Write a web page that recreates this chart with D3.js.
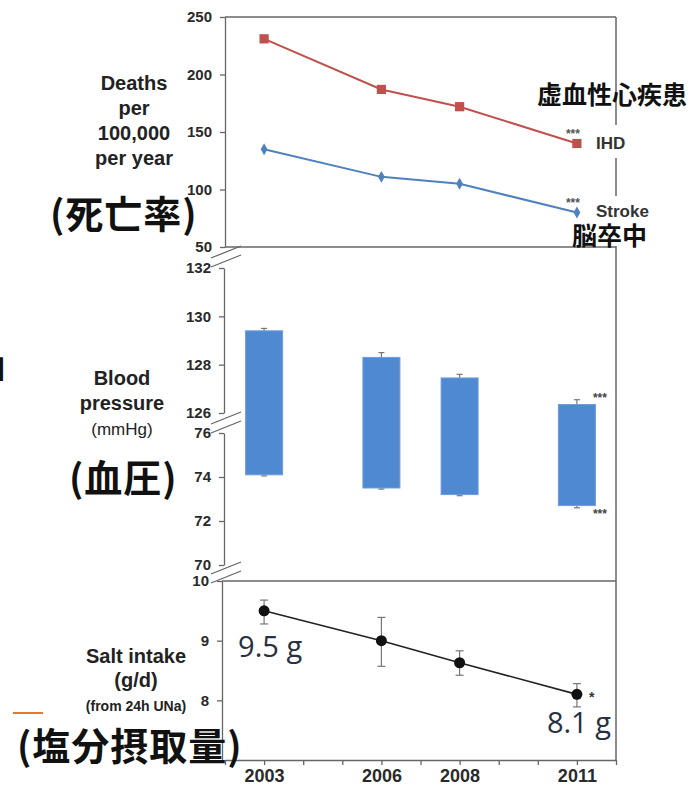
<!DOCTYPE html>
<html>
<head>
<meta charset="utf-8">
<script src="https://cdn.jsdelivr.net/npm/d3@7"></script>
<style>
  body { margin: 0; background: #fff; }
  svg { display: block; }
  .tick text { font-family: "Liberation Sans", Arial, sans-serif; font-weight: bold; fill: #2a2a2a; }
</style>
</head>
<body>
<div id="chart"></div>
<script>
// data
const years = [2003, 2006, 2008, 2011];
const ihdDeaths = [231, 187, 172, 140];
const strokeDeaths = [135, 111, 105, 80];
const sbp = [129.4, 128.3, 127.45, 126.35];
const sbpErr = [129.5, 128.5, 127.6, 126.55];
const dbp = [74.1, 73.5, 73.2, 72.7];
const dbpErr = [74.05, 73.45, 73.15, 72.6];
const salt = [9.5, 9.0, 8.63, 8.1];
const saltLow = [9.28, 8.57, 8.42, 7.89];
const saltHigh = [9.68, 9.39, 8.83, 8.28];
const yearTicks = [2003, 2006, 2008, 2011];
const deathTicks = [50, 100, 150, 200, 250];
const bpHiTicks = [126, 128, 130, 132];
const bpLoTicks = [70, 72, 74, 76];
const saltTicks = [8, 9, 10];

let width = 692;
let height = 787;

let red = "#c0504d";
let blue = "#4f81bd";
let barBlue = "#4f89d2";
let frame = "#666";

let svg = d3.select("#chart").append("svg")
  .attr("width", width)
  .attr("height", height);

//Scales
let x = d3.scaleLinear().domain([2002, 2012]).range([225, 616]);
let yTop = d3.scaleLinear().domain([50, 250]).range([247, 17]);
let yBpHi = d3.scaleLinear().domain([126, 132]).range([413, 268]);
let yBpLo = d3.scaleLinear().domain([70, 76]).range([565, 433]);
let ySalt = d3.scaleLinear().domain([7, 10]).range([760, 581]);

function styleAxis(g, size) {
  g.selectAll("path, line").attr("stroke", frame).attr("stroke-width", 1.3);
  g.selectAll("text").style("font-size", size + "px");
}

//Frame lines
svg.append("line").attr("x1", x(2012)).attr("x2", x(2012))
  .attr("y1", yTop(250)).attr("y2", ySalt(7))
  .attr("stroke", frame).attr("stroke-width", 1.5);
[yTop(250), yTop(50)].forEach(v => {
  svg.append("line").attr("x1", x(2002)).attr("x2", x(2012))
    .attr("y1", v).attr("y2", v).attr("stroke", frame).attr("stroke-width", 1.3);
});
svg.append("line").attr("x1", 222).attr("x2", x(2012))
  .attr("y1", ySalt(10)).attr("y2", ySalt(10))
  .attr("stroke", frame).attr("stroke-width", 1.3);

//Left axes
let fmt = d3.format("d");
svg.append("g").attr("transform", "translate(225,0)")
  .call(d3.axisLeft(yTop).tickValues(deathTicks).tickFormat(fmt).tickSize(5).tickSizeOuter(0).tickPadding(8))
  .call(g => styleAxis(g, 15));
svg.append("g").attr("transform", "translate(224,0)")
  .call(d3.axisLeft(yBpHi).tickValues(bpHiTicks).tickFormat(fmt).tickSize(5).tickSizeOuter(0).tickPadding(8))
  .call(g => styleAxis(g, 15));
svg.append("g").attr("transform", "translate(224,0)")
  .call(d3.axisLeft(yBpLo).tickValues(bpLoTicks).tickFormat(fmt).tickSize(5).tickSizeOuter(0).tickPadding(8))
  .call(g => styleAxis(g, 15));
svg.append("g").attr("transform", "translate(222,0)")
  .call(d3.axisLeft(ySalt).tickValues(saltTicks).tickFormat(fmt).tickSize(5).tickSizeOuter(0).tickPadding(8))
  .call(g => styleAxis(g, 15));

//Bottom axis
svg.append("g").attr("transform", "translate(0," + ySalt(7) + ")")
  .call(d3.axisBottom(x).tickValues(d3.range(2002, 2013)).tickSize(5).tickSizeOuter(0).tickFormat(""))
  .call(g => styleAxis(g, 18));
svg.append("g").attr("transform", "translate(0," + ySalt(7) + ")")
  .call(d3.axisBottom(x).tickValues(yearTicks).tickSize(0).tickPadding(9).tickFormat(fmt))
  .call(g => g.select(".domain").remove())
  .call(g => g.selectAll("text").style("font-size", "18px").attr("fill", "#222"));

//Break marks
[257, 423, 573].forEach(c => {
  [-5, 4].forEach(off => {
    svg.append("line")
      .attr("x1", 211).attr("y1", c + off + 6)
      .attr("x2", 241).attr("y2", c + off - 6)
      .attr("stroke", frame).attr("stroke-width", 1.3);
  });
});

//Deaths panel
let line = d3.line().x((d, i) => x(years[i])).y(d => yTop(d));
svg.append("path").datum(ihdDeaths).attr("d", line)
  .attr("fill", "none").attr("stroke", red).attr("stroke-width", 2);
svg.append("path").datum(strokeDeaths).attr("d", line)
  .attr("fill", "none").attr("stroke", blue).attr("stroke-width", 2);
svg.append("g").selectAll("path").data(ihdDeaths).enter().append("path")
  .attr("transform", (d, i) => "translate(" + x(years[i]) + "," + yTop(d) + ")")
  .attr("d", d3.symbol(d3.symbolSquare, 85))
  .attr("fill", red);
svg.append("g").selectAll("path").data(strokeDeaths).enter().append("path")
  .attr("transform", (d, i) => "translate(" + x(years[i]) + "," + yTop(d) + ")")
  .attr("d", d3.symbol(d3.symbolDiamond, 40))
  .attr("fill", blue);

//Series labels (white box hides frame line)
svg.append("rect").attr("x", 593).attr("y", 125).attr("width", 40).attr("height", 33).attr("fill", "#fff");
svg.append("rect").attr("x", 593).attr("y", 196).attr("width", 62).attr("height", 50).attr("fill", "#fff");
svg.append("text").attr("x", 596).attr("y", 149).text("IHD")
  .style("font", "bold 17px 'Liberation Sans', Arial, sans-serif").attr("fill", "#333");
svg.append("text").attr("x", 596).attr("y", 217).text("Stroke")
  .style("font", "bold 17px 'Liberation Sans', Arial, sans-serif").attr("fill", "#333");
svg.append("text").attr("x", x(2011) - 11).attr("y", yTop(ihdDeaths[3]) - 6).text("***")
  .style("font", "bold 12px 'Liberation Sans', Arial, sans-serif").attr("fill", "#555");
svg.append("text").attr("x", x(2011) - 11).attr("y", yTop(strokeDeaths[3]) - 6).text("***")
  .style("font", "bold 12px 'Liberation Sans', Arial, sans-serif").attr("fill", "#555");

//Blood pressure bars
let barW = 37;
let bars = svg.append("g").selectAll("g").data(years).enter().append("g");
bars.append("line")
  .attr("x1", d => x(d)).attr("x2", d => x(d))
  .attr("y1", (d, i) => yBpHi(sbpErr[i])).attr("y2", (d, i) => yBpLo(dbpErr[i]))
  .attr("stroke", "#777").attr("stroke-width", 1.2);
[sbpErr, dbpErr].forEach((arr, k) => {
  bars.append("line")
    .attr("x1", d => x(d) - 3).attr("x2", d => x(d) + 3)
    .attr("y1", (d, i) => k == 0 ? yBpHi(arr[i]) : yBpLo(arr[i]))
    .attr("y2", (d, i) => k == 0 ? yBpHi(arr[i]) : yBpLo(arr[i]))
    .attr("stroke", "#777").attr("stroke-width", 1.2);
});
bars.append("rect")
  .attr("x", d => x(d) - barW / 2)
  .attr("y", (d, i) => yBpHi(sbp[i]))
  .attr("width", barW)
  .attr("height", (d, i) => yBpLo(dbp[i]) - yBpHi(sbp[i]))
  .attr("fill", barBlue)
  .attr("stroke", "#6d9cdb").attr("stroke-width", 1);
svg.append("text").attr("x", x(2011) + 16).attr("y", yBpHi(sbpErr[3]) + 2).text("***")
  .style("font", "bold 12px 'Liberation Sans', Arial, sans-serif").attr("fill", "#444");
svg.append("text").attr("x", x(2011) + 16).attr("y", yBpLo(dbpErr[3]) + 10).text("***")
  .style("font", "bold 12px 'Liberation Sans', Arial, sans-serif").attr("fill", "#444");

//Salt panel
svg.append("g").selectAll("g").data(years).enter().append("g")
  .each(function(d, i) {
    let g = d3.select(this);
    g.append("line").attr("x1", x(d)).attr("x2", x(d))
      .attr("y1", ySalt(saltHigh[i])).attr("y2", ySalt(saltLow[i]))
      .attr("stroke", "#777").attr("stroke-width", 1.2);
    [saltHigh[i], saltLow[i]].forEach(v => {
      g.append("line").attr("x1", x(d) - 4).attr("x2", x(d) + 4)
        .attr("y1", ySalt(v)).attr("y2", ySalt(v))
        .attr("stroke", "#777").attr("stroke-width", 1.2);
    });
  });
svg.append("path").datum(salt)
  .attr("d", d3.line().x((d, i) => x(years[i])).y(d => ySalt(d)))
  .attr("fill", "none").attr("stroke", "#222").attr("stroke-width", 1.6);
svg.append("g").selectAll("circle").data(salt).enter().append("circle")
  .attr("cx", (d, i) => x(years[i])).attr("cy", d => ySalt(d))
  .attr("r", 5.5).attr("fill", "#111");
svg.append("text").attr("x", x(2011) + 12).attr("y", ySalt(salt[3]) + 8).text("*")
  .style("font", "bold 14px 'Liberation Sans', Arial, sans-serif").attr("fill", "#333");

let valFont = "29px 'Open Sans', 'Noto Sans', sans-serif";
svg.append("text").attr("x", x(2003) - 26).attr("y", ySalt(salt[0]) + 46).text("9.5 g")
  .style("font", valFont).attr("fill", "#28303f");
svg.append("text").attr("x", x(2011) - 30).attr("y", ySalt(salt[3]) + 39).text("8.1 g")
  .style("font", valFont).attr("fill", "#28303f");

//Axis titles
let titleFont = "bold 20px 'Liberation Sans', Arial, sans-serif";
function multiLine(cx, y0, lines, step, font) {
  lines.forEach((t, i) => {
    svg.append("text").attr("x", cx).attr("y", y0 + i * step)
      .attr("text-anchor", "middle").text(t)
      .style("font", font[i] || font[0]).attr("fill", "#222");
  });
}
multiLine(134, 90, ["Deaths", "per", "100,000", "per year"], 25, [titleFont]);
multiLine(122, 385, ["Blood", "pressure", "(mmHg)"], 25,
  [titleFont, titleFont, "17px 'Liberation Sans', Arial, sans-serif"]);
multiLine(136, 663, ["Salt intake", "(g/d)", "(from 24h UNa)"], 24,
  [titleFont, titleFont, "bold 14px 'Liberation Sans', Arial, sans-serif"]);

//Japanese labels
function jp(xp, yp, t, size, spacing) {
  svg.append("text").attr("x", xp).attr("y", yp).text(t)
    .style("font", "bold " + size + "px 'Noto Sans CJK JP', sans-serif")
    .style("letter-spacing", spacing + "px")
    .attr("fill", "#111");
}
jp(50, 228, "(死亡率)", 38, 1);
jp(69, 492, "(血圧)", 38, 1);
jp(17, 760, "(塩分摂取量)", 38, 1);
jp(537, 104, "虚血性心疾患", 25, 0);
jp(572, 245, "脳卒中", 25, 0);

//Clipped fragment on left edge and orange dash
jp(-28, 378, "山", 34, 0);
svg.append("line").attr("x1", 13).attr("x2", 43).attr("y1", 713).attr("y2", 713)
  .attr("stroke", "#e8782a").attr("stroke-width", 2);
</script>
</body>
</html>
